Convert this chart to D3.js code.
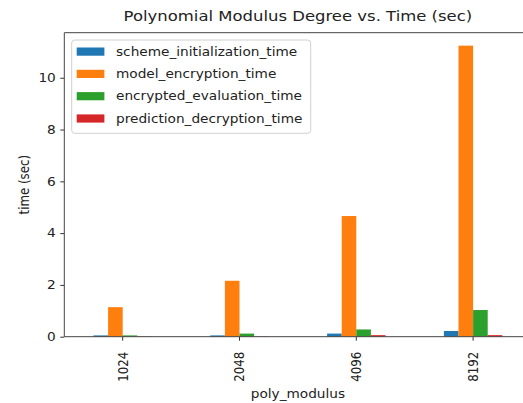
<!DOCTYPE html>
<html>
<head>
<meta charset="utf-8">
<script src="https://cdn.jsdelivr.net/npm/d3@7"></script>
<style>
  html, body { margin: 0; padding: 0; background: #fff; }
  svg { display: block; font-family: "DejaVu Sans", sans-serif; }
</style>
</head>
<body>
<svg id="chart" width="523" height="403"></svg>
<script>
const categories = ["1024", "2048", "4096", "8192"];
const seriesNames = ["scheme_initialization_time", "model_encryption_time", "encrypted_evaluation_time", "prediction_decryption_time"];
const scheme_initialization_time = [0.05, 0.05, 0.12, 0.22];
const model_encryption_time = [1.14, 2.16, 4.66, 11.24];
const encrypted_evaluation_time = [0.05, 0.12, 0.28, 1.03];
const prediction_decryption_time = [0.01, 0.01, 0.06, 0.06];
const yTicks = [0, 2, 4, 6, 8, 10];
const colors = ["#1f77b4", "#ff7f0e", "#2ca02c", "#d62728"];
const title = "Polynomial Modulus Degree vs. Time (sec)";
const xLabel = "poly_modulus";
const yLabel = "time (sec)";

const seriesValues = [scheme_initialization_time, model_encryption_time, encrypted_evaluation_time, prediction_decryption_time];

const svg = d3.select("#chart");
const L = 64.3, R = 531.5, T = 32.7, B = 336.7;
const fs = 11.8;
const sx = 1.16; // horizontal stretch of text as in the reference

const x = d3.scaleBand().domain(categories).range([L, R]).paddingInner(0.5).paddingOuter(0.25);
const xs = d3.scaleBand().domain(d3.range(seriesNames.length)).range([0, x.bandwidth()]);
const y = d3.scaleLinear().domain([0, 11.74]).range([B, T]);

// bars
seriesValues.forEach((vals, j) => {
  svg.append("g").selectAll("rect").data(vals).join("rect")
    .attr("x", (d, i) => x(categories[i]) + xs(j))
    .attr("width", xs.bandwidth())
    .attr("y", d => y(d))
    .attr("height", d => y(0) - y(d))
    .attr("fill", colors[j]);
});

// y axis
const yAxis = svg.append("g").attr("transform", `translate(${L},0)`)
  .call(d3.axisLeft(y).tickValues(yTicks).tickSize(4).tickPadding(4).tickFormat(d3.format("d")));
yAxis.select(".domain").remove();
yAxis.selectAll("line").attr("stroke", "#333");
yAxis.selectAll("text").attr("font-size", fs).attr("fill", "#222").attr("font-family", "DejaVu Sans")
  .attr("x", -8.5).attr("transform", `scale(${sx},1)`).attr("x", -8.5 / sx);

// x axis
const xAxis = svg.append("g").attr("transform", `translate(0,${B})`)
  .call(d3.axisBottom(x).tickSize(4).tickPadding(4));
xAxis.select(".domain").remove();
xAxis.selectAll("line").attr("stroke", "#333");
xAxis.selectAll("text")
  .attr("font-size", fs).attr("fill", "#222").attr("font-family", "DejaVu Sans")
  .attr("transform", `scale(${sx},1) rotate(-90)`)
  .attr("text-anchor", "end")
  .attr("dy", "0.35em")
  .attr("x", -15)
  .attr("y", 0);

// spines
const sp = svg.append("g").attr("stroke", "#444").attr("stroke-width", 1).attr("fill", "none");
sp.append("line").attr("x1", L).attr("x2", L).attr("y1", T).attr("y2", B);
sp.append("line").attr("x1", L).attr("x2", R).attr("y1", B).attr("y2", B);
sp.append("line").attr("x1", L).attr("x2", R).attr("y1", T).attr("y2", T);
sp.append("line").attr("x1", R).attr("x2", R).attr("y1", T).attr("y2", B);

// title and labels
svg.append("text").attr("transform", `translate(${(L + R) / 2},21) scale(${sx},1)`).attr("text-anchor", "middle")
  .attr("font-size", 14.2).attr("fill", "#222").text(title);
svg.append("text").attr("transform", `translate(${(L + R) / 2},398) scale(${sx},1)`).attr("text-anchor", "middle")
  .attr("font-size", fs).attr("fill", "#222").text(xLabel);
svg.append("text").attr("transform", `translate(29,${(T + B) / 2}) scale(${sx},1) rotate(-90)`).attr("text-anchor", "middle")
  .attr("font-size", fs).attr("fill", "#222").text(yLabel);

// legend
const lg = svg.append("g");
lg.append("rect").attr("x", 71.7).attr("y", 40).attr("width", 239).attr("height", 93.3)
  .attr("rx", 3).attr("fill", "#fff").attr("fill-opacity", 0.8).attr("stroke", "#d0d0d0");
seriesNames.forEach((name, j) => {
  const cy = 51.5 + j * 22.3;
  lg.append("rect").attr("x", 76.7).attr("y", cy - 4).attr("width", 27.7).attr("height", 8.2).attr("fill", colors[j]);
  lg.append("text").attr("transform", `translate(116,${cy}) scale(${sx},1)`).attr("dy", "0.35em")
    .attr("font-size", fs).attr("fill", "#222").text(name);
});
</script>
</body>
</html>
